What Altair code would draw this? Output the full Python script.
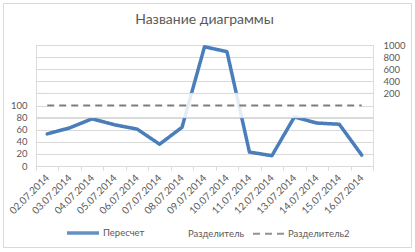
import altair as alt
import pandas as pd

# ---- data ----
dates = ["02.07.2014", "03.07.2014", "04.07.2014", "05.07.2014", "06.07.2014",
         "07.07.2014", "08.07.2014", "09.07.2014", "10.07.2014", "11.07.2014",
         "12.07.2014", "13.07.2014", "14.07.2014", "15.07.2014", "16.07.2014"]
raw_values = [53, 63, 78, 68, 61, 36, 64, 970, 890, 23, 17, 81, 71, 69, 18]
separator = [0, 0, 0, 0, 0, 0, 0, 0, 0, 0, 0, 0, 0, 0, 0]          # right axis
separator2 = [100, 100, 100, 100, 100, 100, 100, 100, 100, 100, 100, 100, 100, 100, 100]  # left axis
left_ticks = [0, 20, 40, 60, 80, 100, 120, 140, 160, 180, 200]
right_ticks = [200, 400, 600, 800, 1000]
grid_over = [80, 120]
series = ["Пересчет", "Разделитель", "Разделитель2"]

# recalculation: values above 100 go to the upper (x10 compressed) half
recalc = [v if v <= 100 else 100 + v / 10 for v in raw_values]

FONT = "Lato"
TXT = "#595959"
GRID = "#d9d9d9"

df_main = pd.DataFrame({"date": dates, "value": recalc, "series": series[0]})
df_sep = pd.DataFrame({"date": dates, "value": separator, "series": series[1]})
df_sep2 = pd.DataFrame({"date": dates, "value": separator2, "series": series[2]})
df_grid = pd.DataFrame({"value": grid_over})

legend = alt.Legend(title=None, orient="none", legendX=29, legendY=170,
                    direction="horizontal", symbolType="stroke", symbolSize=1024,
                    labelFont=FONT, labelFontSize=9.5, labelColor=TXT,
                    labelOffset=2, columnPadding=4, padding=0)

color = alt.Color("series:N", scale=alt.Scale(domain=series, range=["#4A7EBB", "#FFFFFF", "#7F7F7F"]), legend=legend)
dash = alt.StrokeDash("series:N", scale=alt.Scale(type="ordinal", domain=series, range=[[1, 0], [1, 0], [7, 5]]), legend=legend)
sw = alt.StrokeWidth("series:N", scale=alt.Scale(type="ordinal", domain=series, range=[3.5, 2, 2]), legend=legend)

x = alt.X("date:N", sort=dates, bandPosition=0.5,
          scale=alt.Scale(type="band", paddingInner=0, paddingOuter=0),
          axis=alt.Axis(title=None, labelAngle=315, labelAlign="right", labelBaseline="middle",
                        labelFont=FONT, labelFontSize=10, labelColor=TXT, labelPadding=6,
                        tickBand="extent", tickSize=4, tickColor=GRID, domainColor=GRID,
                        grid=False, labelOverlap=False))

main = alt.Chart(df_main).mark_line(strokeJoin="round", strokeCap="round").encode(
    x=x,
    y=alt.Y("value:Q", scale=alt.Scale(domain=[0, 200], nice=False),
            axis=alt.Axis(title=None, orient="left", values=left_ticks,
                          labelExpr="datum.value <= 100 ? datum.label : ''",
                          grid=True, gridColor=GRID, ticks=False, domain=False,
                          labelFont=FONT, labelFontSize=9.5, labelColor=TXT, labelPadding=9)),
    color=color, strokeDash=dash, strokeWidth=sw,
)

band = alt.Chart(df_sep).mark_line(opacity=0.85, strokeWidth=25).encode(
    x=x,
    y=alt.Y("value:Q", scale=alt.Scale(domain=[-1000, 1000], nice=False),
            axis=alt.Axis(title=None, orient="right", values=right_ticks, grid=False, format="d",
                          ticks=False, domain=False, labelFont=FONT, labelFontSize=9.5,
                          labelColor=TXT, labelPadding=10)),
    color=color, strokeDash=dash,
)

grid_rules = alt.Chart(df_grid).mark_rule(color=GRID, strokeWidth=1).encode(
    y=alt.Y("value:Q", scale=alt.Scale(domain=[0, 200], nice=False), axis=None)
)

dashed = alt.Chart(df_sep2).mark_line().encode(
    x=x,
    y=alt.Y("value:Q", scale=alt.Scale(domain=[0, 200], nice=False), axis=None),
    color=color, strokeDash=dash, strokeWidth=sw,
)

border = alt.Chart(pd.DataFrame({"a": [0]})).mark_rect(
    fillOpacity=0, stroke=GRID, strokeWidth=1
).encode(x=alt.value(-32.5), x2=alt.value(375.5), y=alt.value(-41.5), y2=alt.value(202.5))

chart = alt.layer(main, band, grid_rules, dashed, border).resolve_scale(
    y="independent"
).properties(
    width=337, height=121,
    title=alt.TitleParams("Название диаграммы", font=FONT, fontSize=14, color=TXT,
                          fontWeight="normal", anchor="middle", baseline="alphabetic",
                          frame="group", offset=-34.5),
    autosize=alt.AutoSizeParams(type="none"),
    padding={"left": 36, "top": 45, "right": 42, "bottom": 86},
).configure_view(stroke=None).configure(background="white")

chart.save("out.html", embed_options={"renderer": "svg", "actions": False})
